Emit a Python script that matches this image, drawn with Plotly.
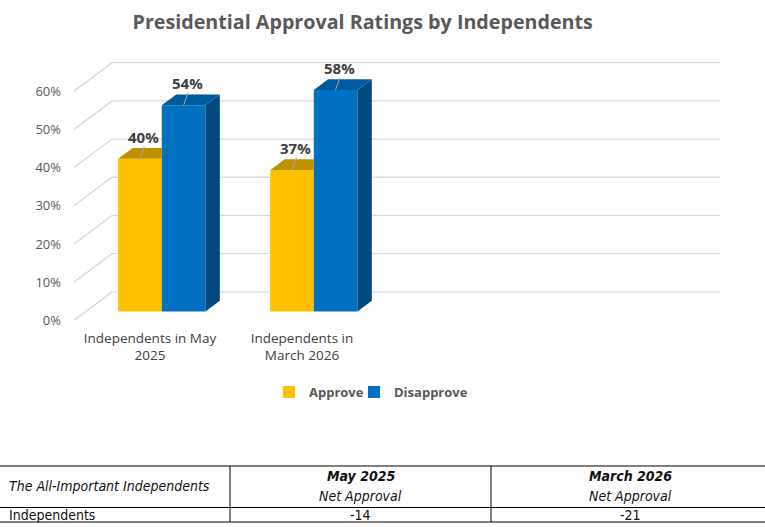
import plotly.graph_objects as go

# ---------------- data ----------------
categories = ["Independents in May 2025", "Independents in March 2026"]
tick_labels = ["Independents in May<br>2025", "Independents in<br>March 2026"]
approve = [0.40, 0.37]
disapprove = [0.54, 0.58]
y_ticks = [0.0, 0.1, 0.2, 0.3, 0.4, 0.5, 0.6]

table_header = ["The All-Important Independents", "May 2025", "March 2026"]
table_sub = ["", "Net Approval", "Net Approval"]
table_row_label = "Independents"
net_approval = [-14, -21]

# ---------------- geometry / style ----------------
W, H = 765, 527
ML, MR, MT, MB = 74, 45, 50, 199
N_SLOTS = 4
DX, DY = 0.25, 0.0746          # full floor depth (data units)
F0 = 0.31                       # depth of bar front face
FB = 0.38                       # bar depth fraction
SH, BH = F0 * DX, F0 * DY
BDX, BDY = FB * DX, FB * DY
BW = 0.287

YEL, YEL_TOP, YEL_SIDE = "#FFC000", "#BF9000", "#A67C00"
BLU, BLU_TOP, BLU_SIDE = "#0070C0", "#005A9E", "#004A80"
GRID = "#D9D9D9"
TXT = "#595959"
FONT = "Open Sans, Lato, sans-serif"
NARROW = "Liberation Sans Narrow, DejaVu Sans Condensed, Roboto, sans-serif"

x_range = [-0.5, N_SLOTS - 0.5 + DX]
plot_h = H - MT - MB
y_lo = -0.02
y_range = [y_lo, y_lo + plot_h / 382.0]


def px_x(p):
    return (p - ML) / (W - ML - MR)


def px_y(p):
    return (H - MB - p) / plot_h


fig = go.Figure()

series = [
    ("Approve", approve, YEL, YEL_TOP, YEL_SIDE, "legend"),
    ("Disapprove", disapprove, BLU, BLU_TOP, BLU_SIDE, "legend2"),
]

# front faces as bars
for s, (name, vals, c, ct, cs, lg) in enumerate(series):
    fig.add_trace(go.Bar(
        name=name, x=list(range(len(vals))), y=vals, base=BH,
        width=BW, offset=-BW + s * BW + SH,
        marker=dict(color=c, line=dict(width=0)),
        showlegend=True, legend=lg,
    ))

annotations = []
# top and side faces
for s, (name, vals, c, ct, cs, lg) in enumerate(series):
    for i, v in enumerate(vals):
        x0 = i - BW + s * BW + SH
        x1 = x0 + BW
        top = BH + v
        right_taller = (s + 1 < len(series)) and series[s + 1][1][i] > v + BDY
        if right_taller:
            tx = [x0, x1, x1, x0 + BDX, x0]
            ty = [top, top, top + BDY, top + BDY, top]
        else:
            tx = [x0, x1, x1 + BDX, x0 + BDX, x0]
            ty = [top, top, top + BDY, top + BDY, top]
            fig.add_trace(go.Scatter(
                x=[x1, x1 + BDX, x1 + BDX, x1, x1],
                y=[BH, BH + BDY, top + BDY, top, BH],
                fill="toself", fillcolor=cs, mode="lines",
                line=dict(width=0, color=cs), showlegend=False, hoverinfo="skip"))
        fig.add_trace(go.Scatter(
            x=tx, y=ty, fill="toself", fillcolor=ct, mode="lines",
            line=dict(width=0, color=ct), showlegend=False, hoverinfo="skip"))
        xc = (x0 + x1) / 2
        # leader line
        fig.add_trace(go.Scatter(
            x=[xc, xc + BDX * 0.3], y=[top, top + BDY * 1.15],
            mode="lines", line=dict(width=1, color="#A6A6A6"),
            showlegend=False, hoverinfo="skip"))
        annotations.append(dict(
            x=xc + BDX * 0.25, y=top + BDY, xref="x", yref="y",
            text=f"{round(v * 100)}%", showarrow=False, yanchor="bottom", yshift=-1,
            font=dict(family=FONT, size=15, color="#404040", weight="bold")))

# perspective gridlines (behind everything)
shapes = []
for v in y_ticks:
    shapes.append(dict(
        type="path", xref="x", yref="y", layer="below",
        path=f"M {-0.5},{v} L {-0.5 + DX},{v + DY} L {N_SLOTS - 0.5 + DX},{v + DY}",
        line=dict(color=GRID, width=1.3)))

# ---------------- table (below chart) ----------------
T_TOP, T_MID, T_BOT = 466, 507.5, 522
C1, C2 = 230, 491
for yy in (T_TOP, T_MID, T_BOT):
    shapes.append(dict(type="line", xref="paper", yref="paper",
                       x0=px_x(0), x1=px_x(W), y0=px_y(yy), y1=px_y(yy),
                       line=dict(color="black", width=1)))
for xx in (C1, C2):
    shapes.append(dict(type="line", xref="paper", yref="paper",
                       x0=px_x(xx), x1=px_x(xx), y0=px_y(T_TOP), y1=px_y(T_BOT),
                       line=dict(color="black", width=1)))

tfont = dict(family=NARROW, size=14, color="#111111")
col_centers = [(C1 + C2) / 2, (C2 + W) / 2 + 2]
annotations.append(dict(x=px_x(7), y=px_y(486), xref="paper", yref="paper",
                        text=f"<i>{table_header[0]}</i>", showarrow=False,
                        xanchor="left", yanchor="middle", font=tfont))
for j in range(2):
    annotations.append(dict(x=px_x(col_centers[j]), y=px_y(476), xref="paper", yref="paper",
                            text=f"<b><i>{table_header[j + 1]}</i></b>", showarrow=False,
                            xanchor="center", yanchor="middle", font=tfont))
    annotations.append(dict(x=px_x(col_centers[j]), y=px_y(496), xref="paper", yref="paper",
                            text=f"<i>{table_sub[j + 1]}</i>", showarrow=False,
                            xanchor="center", yanchor="middle", font=tfont))
    annotations.append(dict(x=px_x(col_centers[j]), y=px_y(515), xref="paper", yref="paper",
                            text=str(net_approval[j]), showarrow=False,
                            xanchor="center", yanchor="middle", font=tfont))
annotations.append(dict(x=px_x(7), y=px_y(515), xref="paper", yref="paper",
                        text=table_row_label, showarrow=False,
                        xanchor="left", yanchor="middle", font=tfont))

legend_font = dict(family=FONT, size=13, color=TXT, weight="bold")
fig.update_layout(
    width=W, height=H,
    margin=dict(l=ML, r=MR, t=MT, b=MB),
    paper_bgcolor="white", plot_bgcolor="white",
    barmode="overlay",
    title=dict(text="Presidential Approval Ratings by Independents",
               x=362.7 / W, xanchor="center", y=1 - 22 / H, yanchor="middle",
               font=dict(family=FONT, size=19.7, color=TXT, weight="bold")),
    xaxis=dict(range=x_range, tickvals=list(range(len(tick_labels))), ticktext=tick_labels,
               showgrid=False, zeroline=False, showline=False, ticks="",
               tickfont=dict(family=FONT, size=13.5, color="#404040")),
    yaxis=dict(range=y_range, tickvals=y_ticks, tickformat=".0%",
               showgrid=False, zeroline=False, showline=False, ticks="",
               ticklabelstandoff=12,
               tickfont=dict(family=FONT, size=13, color=TXT)),
    legend=dict(orientation="h", x=px_x(269), y=px_y(392), xanchor="left", yanchor="middle",
                font=legend_font, itemwidth=30, bgcolor="rgba(0,0,0,0)"),
    legend2=dict(orientation="h", x=px_x(354), y=px_y(392), xanchor="left", yanchor="middle",
                 font=legend_font, itemwidth=30, bgcolor="rgba(0,0,0,0)"),
    shapes=shapes,
    annotations=annotations,
    hovermode=False,
)

fig.write_html("out.html", config={"displayModeBar": False},
               post_script="document.body.style.margin='0';")
